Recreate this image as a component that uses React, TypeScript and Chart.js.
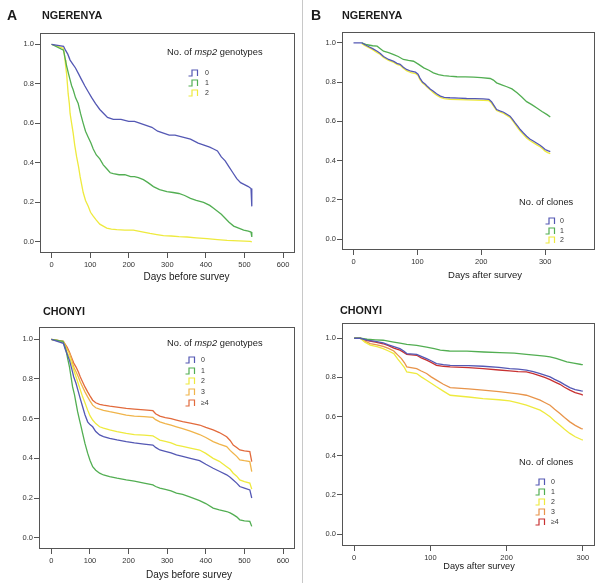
import React, { useEffect, useRef } from "react";
import { Chart, registerables } from "chart.js";
Chart.register(...registerables);

// ---------------- data ----------------
const yTickValues = [0, 0.2, 0.4, 0.6, 0.8, 1.0];
const xTicksBefore = [0, 100, 200, 300, 400, 500, 600];
const xTicksAfter = [0, 100, 200, 300];

// A: Ngerenya, No. of msp2 genotypes, days before survey
const ngBefore0Days = [0, 31, 36, 42, 48, 55, 62, 70, 78, 86, 95, 104, 114, 125, 135, 145, 160, 180, 200, 215, 230, 245, 260, 275, 290, 305, 320, 340, 360, 380, 395, 410, 420, 430, 440, 450, 460, 470, 480, 490, 500, 510, 517, 519];
const ngBefore0Surv = [1, 0.99, 0.97, 0.95, 0.92, 0.9, 0.88, 0.85, 0.82, 0.79, 0.76, 0.73, 0.7, 0.67, 0.65, 0.63, 0.62, 0.62, 0.61, 0.61, 0.6, 0.59, 0.58, 0.56, 0.55, 0.54, 0.54, 0.53, 0.52, 0.5, 0.49, 0.48, 0.47, 0.46, 0.43, 0.41, 0.38, 0.35, 0.32, 0.3, 0.29, 0.28, 0.27, 0.18];
const ngBefore1Days = [0, 31, 35, 39, 44, 48, 52, 56, 62, 69, 75, 82, 88, 95, 102, 108, 116, 125, 134, 143, 152, 160, 175, 190, 205, 215, 225, 238, 250, 264, 280, 299, 315, 330, 345, 360, 375, 394, 410, 420, 430, 440, 450, 460, 472, 485, 498, 510, 517, 519];
const ngBefore1Surv = [1, 0.97, 0.93, 0.89, 0.85, 0.82, 0.79, 0.77, 0.73, 0.7, 0.65, 0.6, 0.56, 0.53, 0.5, 0.47, 0.44, 0.42, 0.39, 0.37, 0.35, 0.345, 0.34, 0.34, 0.33, 0.33, 0.325, 0.315, 0.3, 0.28, 0.265, 0.255, 0.25, 0.245, 0.235, 0.22, 0.21, 0.2, 0.185, 0.17, 0.155, 0.14, 0.12, 0.1, 0.08, 0.07, 0.06, 0.055, 0.05, 0.025];
const ngBefore2Days = [0, 30, 33, 35, 37, 39, 41, 43, 46, 48, 52, 56, 60, 65, 70, 74, 78, 82, 88, 95, 101, 108, 116, 125, 134, 143, 155, 169, 190, 212, 225, 238, 255, 273, 290, 310, 330, 351, 375, 403, 430, 455, 485, 515, 519];
const ngBefore2Surv = [1, 0.98, 0.95, 0.92, 0.88, 0.85, 0.8, 0.75, 0.7, 0.65, 0.6, 0.55, 0.49, 0.43, 0.38, 0.33, 0.29, 0.25, 0.21, 0.18, 0.15, 0.13, 0.11, 0.09, 0.08, 0.07, 0.065, 0.062, 0.06, 0.06, 0.055, 0.05, 0.043, 0.037, 0.032, 0.03, 0.027, 0.025, 0.021, 0.017, 0.012, 0.008, 0.005, 0.003, 0.0];

// B: Ngerenya, No. of clones, days after survey
const ngAfter0Days = [0, 13, 18, 24, 30, 37, 42, 47, 55, 63, 68, 73, 78, 83, 90, 97, 101, 104, 108, 112, 115, 120, 125, 130, 136, 142, 151, 165, 177, 190, 203, 212, 216, 220, 224, 230, 235, 240, 245, 249, 253, 257, 261, 266, 271, 276, 282, 287, 292, 296, 300, 304, 308];
const ngAfter0Surv = [1, 1, 0.99, 0.98, 0.97, 0.957, 0.945, 0.93, 0.915, 0.905, 0.895, 0.89, 0.875, 0.864, 0.855, 0.85, 0.84, 0.82, 0.8, 0.79, 0.78, 0.765, 0.753, 0.74, 0.728, 0.722, 0.72, 0.718, 0.716, 0.715, 0.714, 0.712, 0.7, 0.68, 0.66, 0.652, 0.646, 0.636, 0.626, 0.61, 0.592, 0.575, 0.558, 0.54, 0.524, 0.51, 0.498, 0.488, 0.478, 0.468, 0.456, 0.45, 0.445];
const ngAfter1Days = [13, 21, 30, 37, 42, 47, 55, 63, 70, 78, 86, 94, 102, 110, 118, 125, 133, 141, 150, 162, 175, 188, 200, 214, 219, 224, 232, 240, 248, 256, 263, 271, 279, 287, 295, 303, 308];
const ngAfter1Surv = [1, 0.99, 0.985, 0.983, 0.97, 0.957, 0.95, 0.94, 0.93, 0.915, 0.91, 0.906, 0.89, 0.872, 0.86, 0.847, 0.838, 0.833, 0.83, 0.827, 0.826, 0.825, 0.822, 0.818, 0.81, 0.796, 0.786, 0.776, 0.765, 0.745, 0.725, 0.7, 0.685, 0.668, 0.65, 0.634, 0.622];
const ngAfter2Days = [13, 18, 24, 30, 37, 42, 47, 55, 63, 68, 73, 78, 83, 90, 97, 101, 104, 108, 112, 115, 120, 125, 130, 136, 142, 151, 165, 177, 190, 203, 212, 216, 220, 224, 230, 235, 240, 245, 249, 253, 257, 261, 266, 271, 276, 282, 287, 292, 296, 300, 304, 308];
const ngAfter2Surv = [0.995, 0.985, 0.975, 0.965, 0.95, 0.94, 0.925, 0.91, 0.9, 0.89, 0.885, 0.87, 0.858, 0.848, 0.843, 0.833, 0.812, 0.795, 0.785, 0.775, 0.76, 0.746, 0.733, 0.722, 0.715, 0.712, 0.71, 0.709, 0.708, 0.707, 0.705, 0.693, 0.673, 0.655, 0.646, 0.64, 0.63, 0.62, 0.603, 0.585, 0.567, 0.55, 0.532, 0.515, 0.502, 0.49, 0.48, 0.47, 0.46, 0.448, 0.44, 0.435];

// C: Chonyi, No. of msp2 genotypes, days before survey
const chBeforeDays = [0, 31, 36, 41, 47, 53, 58, 64, 70, 75, 81, 87, 94, 100, 107, 115, 125, 135, 151, 170, 194, 215, 240, 263, 270, 281, 295, 310, 324, 340, 360, 384, 400, 419, 435, 454, 463, 471, 480, 488, 500, 514, 519];
const chBefore0Surv = [1, 0.98, 0.95, 0.925, 0.894, 0.85, 0.81, 0.777, 0.735, 0.7, 0.66, 0.62, 0.584, 0.57, 0.559, 0.535, 0.518, 0.51, 0.501, 0.493, 0.484, 0.478, 0.472, 0.467, 0.455, 0.442, 0.435, 0.428, 0.417, 0.41, 0.4, 0.388, 0.37, 0.35, 0.335, 0.317, 0.305, 0.291, 0.275, 0.258, 0.25, 0.241, 0.2];
const chBefore2Surv = [1, 0.985, 0.96, 0.935, 0.91, 0.875, 0.845, 0.81, 0.775, 0.745, 0.71, 0.68, 0.643, 0.615, 0.593, 0.575, 0.559, 0.552, 0.543, 0.535, 0.526, 0.52, 0.517, 0.513, 0.505, 0.492, 0.485, 0.478, 0.467, 0.46, 0.452, 0.442, 0.425, 0.4, 0.385, 0.358, 0.345, 0.325, 0.31, 0.291, 0.283, 0.275, 0.245];
const chBefore3Surv = [1, 0.99, 0.97, 0.95, 0.93, 0.895, 0.86, 0.836, 0.81, 0.785, 0.76, 0.735, 0.71, 0.69, 0.668, 0.655, 0.648, 0.642, 0.635, 0.628, 0.618, 0.613, 0.61, 0.606, 0.595, 0.584, 0.575, 0.567, 0.559, 0.55, 0.537, 0.52, 0.505, 0.484, 0.472, 0.459, 0.44, 0.426, 0.41, 0.392, 0.388, 0.384, 0.333];
const chBefore4Surv = [1, 0.99, 0.975, 0.96, 0.935, 0.905, 0.88, 0.86, 0.835, 0.81, 0.785, 0.76, 0.735, 0.715, 0.693, 0.68, 0.672, 0.668, 0.663, 0.658, 0.652, 0.648, 0.644, 0.64, 0.625, 0.613, 0.605, 0.6, 0.593, 0.585, 0.577, 0.568, 0.556, 0.543, 0.53, 0.509, 0.49, 0.467, 0.455, 0.442, 0.438, 0.434, 0.384];
const chBefore1Days = [0, 30, 34, 38, 42, 47, 51, 55, 60, 64, 68, 73, 77, 81, 87, 94, 100, 107, 115, 125, 135, 151, 170, 194, 215, 240, 263, 270, 281, 295, 310, 324, 340, 360, 384, 400, 419, 435, 454, 463, 471, 480, 488, 500, 514, 519];
const chBefore1Surv = [1, 0.99, 0.97, 0.945, 0.905, 0.86, 0.81, 0.76, 0.72, 0.677, 0.635, 0.593, 0.56, 0.526, 0.475, 0.426, 0.39, 0.358, 0.34, 0.325, 0.316, 0.308, 0.3, 0.291, 0.285, 0.275, 0.266, 0.258, 0.25, 0.243, 0.236, 0.225, 0.218, 0.205, 0.187, 0.172, 0.149, 0.14, 0.132, 0.125, 0.116, 0.105, 0.09, 0.085, 0.082, 0.057];

// D: Chonyi, No. of clones, days after survey
const chAfter1Days = [0, 8, 17, 28, 38, 50, 60, 69, 82, 95, 105, 113, 125, 148, 170, 191, 210, 226, 240, 250, 257, 265, 272, 279, 288, 298, 300];
const chAfter1Surv = [1, 1, 0.995, 0.992, 0.99, 0.982, 0.975, 0.969, 0.964, 0.955, 0.947, 0.939, 0.935, 0.934, 0.93, 0.927, 0.924, 0.918, 0.913, 0.909, 0.905, 0.897, 0.888, 0.879, 0.873, 0.866, 0.865];
const chAfterDays = [0, 8, 17, 28, 38, 45, 52, 60, 65, 69, 82, 88, 95, 101, 108, 117, 126, 150, 169, 190, 204, 215, 226, 235, 244, 250, 257, 263, 270, 276, 283, 290, 298, 300];
const chAfter0Surv = [1, 1, 0.99, 0.984, 0.976, 0.966, 0.957, 0.947, 0.935, 0.922, 0.918, 0.908, 0.896, 0.885, 0.871, 0.865, 0.862, 0.86, 0.857, 0.851, 0.845, 0.842, 0.837, 0.83, 0.82, 0.812, 0.803, 0.79, 0.777, 0.763, 0.748, 0.738, 0.731, 0.73];
const chAfter4Surv = [1, 1, 0.988, 0.98, 0.972, 0.962, 0.95, 0.939, 0.928, 0.918, 0.913, 0.9, 0.888, 0.877, 0.862, 0.857, 0.854, 0.85, 0.845, 0.838, 0.833, 0.83, 0.828, 0.82, 0.808, 0.8, 0.789, 0.777, 0.765, 0.75, 0.735, 0.722, 0.713, 0.71];
const chAfterEarlyDays = [0, 8, 14, 21, 30, 38, 45, 52, 57, 62, 66, 69, 82, 88, 95, 101, 108, 117, 126, 150, 169, 190, 204, 215, 226, 235, 244, 250, 257, 263, 270, 276, 283, 290, 298, 300];
const chAfter3Surv = [1, 1, 0.985, 0.973, 0.966, 0.959, 0.948, 0.935, 0.915, 0.896, 0.875, 0.854, 0.845, 0.833, 0.82, 0.803, 0.786, 0.765, 0.748, 0.742, 0.735, 0.727, 0.721, 0.716, 0.709, 0.697, 0.684, 0.672, 0.658, 0.638, 0.616, 0.595, 0.573, 0.555, 0.539, 0.537];
const chAfter2Surv = [1, 1, 0.98, 0.965, 0.957, 0.947, 0.935, 0.922, 0.895, 0.871, 0.85, 0.828, 0.82, 0.803, 0.786, 0.77, 0.752, 0.73, 0.709, 0.7, 0.692, 0.686, 0.68, 0.67, 0.658, 0.646, 0.633, 0.618, 0.599, 0.578, 0.556, 0.535, 0.514, 0.497, 0.483, 0.48];

const genotypeLabels = ["0", "1", "2", "3", "\u22654"];

// ---------------- styles ----------------
const FONT = "'Liberation Sans', Arial, Helvetica, sans-serif";
const BLUE = "#5458b4";
const GREEN = "#52ae52";
const YELLOW = "#eeea3e";
const LORANGE = "#f0b44a";
const RORANGE = "#e26a3c";
const DORANGE = "#e8944a";
const RED = "#c83232";

type Series = { days: number[]; surv: number[]; color: string };
type PanelCfg = {
  left: number; top: number; width: number; height: number;
  padTop: number; padRight: number; yW: number; xH: number;
  xMin: number; xMax: number; yMin: number; yMax: number;
  xTicks: number[]; series: Series[];
};

const boxPlugin = {
  id: "box",
  afterDatasetsDraw(chart: any) {
    const { ctx, chartArea } = chart;
    const { left, top, right, bottom } = chartArea;
    ctx.save();
    ctx.strokeStyle = "#555";
    ctx.lineWidth = 1;
    ctx.strokeRect(Math.round(left) + 0.5, Math.round(top) + 0.5, Math.round(right - left) - 1, Math.round(bottom - top) - 1);
    ctx.restore();
  },
};

function Panel({ cfg }: { cfg: PanelCfg }) {
  const ref = useRef<HTMLCanvasElement | null>(null);
  useEffect(() => {
    if (!ref.current) return;
    const tickFont = { family: FONT, size: 7.5 };
    const chart = new Chart(ref.current, {
      type: "line",
      data: {
        datasets: cfg.series.map((s) => ({
          data: s.days.map((d, i) => ({ x: d, y: s.surv[i] })),
          borderColor: s.color,
          borderWidth: 1.3,
          pointRadius: 0,
          stepped: false,
          tension: 0,
          fill: false,
        })),
      },
      options: {
        animation: false,
        responsive: false,
        maintainAspectRatio: false,
        events: [],
        layout: { padding: { top: cfg.padTop, right: cfg.padRight, left: 0, bottom: 0 } },
        plugins: { legend: { display: false }, tooltip: { enabled: false }, title: { display: false } },
        scales: {
          x: {
            type: "linear",
            min: cfg.xMin,
            max: cfg.xMax,
            border: { display: false },
            grid: { drawOnChartArea: false, drawTicks: true, tickLength: 5, tickColor: "#555", tickWidth: 1 },
            ticks: { font: tickFont, color: "#333", padding: 2, maxRotation: 0, autoSkip: false, callback: (v: any) => String(v) },
            afterBuildTicks: (s: any) => { s.ticks = cfg.xTicks.map((v) => ({ value: v })); },
            afterFit: (s: any) => { s.height = cfg.xH; },
          },
          y: {
            type: "linear",
            min: cfg.yMin,
            max: cfg.yMax,
            border: { display: false },
            grid: { drawOnChartArea: false, drawTicks: true, tickLength: 5, tickColor: "#555", tickWidth: 1 },
            ticks: { font: tickFont, color: "#333", padding: 1, autoSkip: false, callback: (v: any) => Number(v).toFixed(1) },
            afterBuildTicks: (s: any) => { s.ticks = yTickValues.map((v) => ({ value: v })); },
            afterFit: (s: any) => { s.width = cfg.yW; },
          },
        },
      },
      plugins: [boxPlugin],
    } as any);
    return () => chart.destroy();
  }, [cfg]);
  return (
    <canvas
      ref={ref}
      width={cfg.width}
      height={cfg.height}
      style={{ position: "absolute", left: cfg.left, top: cfg.top, width: cfg.width, height: cfg.height }}
    />
  );
}

function StepIcon({ x, y, color }: { x: number; y: number; color: string }) {
  return (
    <svg width={12} height={8} style={{ position: "absolute", left: x, top: y - 4 }}>
      <path d="M0.5,7 H4 V1 H9.5 V7" stroke={color} strokeWidth={1.2} fill="none" />
    </svg>
  );
}

function Legend({ titleX, titleY, title, iconX, textX, rows, labels, colors }: any) {
  return (
    <>
      <div style={{ position: "absolute", left: titleX, top: titleY - 6, fontFamily: FONT, fontSize: 9.3, color: "#222", whiteSpace: "nowrap", lineHeight: "12px" }}>
        {title}
      </div>
      {labels.map((l: string, i: number) => (
        <React.Fragment key={i}>
          <StepIcon x={iconX} y={rows[i]} color={colors[i]} />
          <div style={{ position: "absolute", left: textX, top: rows[i] - 5, fontFamily: FONT, fontSize: 7, color: "#333", lineHeight: "10px" }}>{l}</div>
        </React.Fragment>
      ))}
    </>
  );
}

function Text({ x, y, size, bold, children, center }: any) {
  return (
    <div
      style={{
        position: "absolute", left: center ? x - 100 : x, top: y - size * 0.6, width: center ? 200 : undefined,
        textAlign: center ? "center" : "left", fontFamily: FONT, fontSize: size, fontWeight: bold ? "bold" : "normal",
        color: "#1a1a1a", whiteSpace: "nowrap", lineHeight: `${Math.round(size * 1.2)}px`,
      }}
    >
      {children}
    </div>
  );
}

const panelA: PanelCfg = {
  left: 0, top: 0, width: 300, height: 290, padTop: 33, padRight: 5, yW: 40, xH: 37,
  xMin: -30, xMax: 631, yMin: -0.056, yMax: 1.057, xTicks: xTicksBefore,
  series: [
    { days: ngBefore0Days, surv: ngBefore0Surv, color: BLUE },
    { days: ngBefore1Days, surv: ngBefore1Surv, color: GREEN },
    { days: ngBefore2Days, surv: ngBefore2Surv, color: YELLOW },
  ],
};
const panelB: PanelCfg = {
  left: 302, top: 0, width: 299, height: 290, padTop: 32, padRight: 6, yW: 40, xH: 40,
  xMin: -18, xMax: 378, yMin: -0.056, yMax: 1.055, xTicks: xTicksAfter,
  series: [
    { days: ngAfter0Days, surv: ngAfter0Surv, color: BLUE },
    { days: ngAfter1Days, surv: ngAfter1Surv, color: GREEN },
    { days: ngAfter2Days, surv: ngAfter2Surv, color: YELLOW },
  ],
};
const panelC: PanelCfg = {
  left: 0, top: 290, width: 300, height: 293, padTop: 37, padRight: 5, yW: 39, xH: 34,
  xMin: -32, xMax: 631, yMin: -0.057, yMax: 1.062, xTicks: xTicksBefore,
  series: [
    { days: chBeforeDays, surv: chBefore0Surv, color: BLUE },
    { days: chBefore1Days, surv: chBefore1Surv, color: GREEN },
    { days: chBeforeDays, surv: chBefore2Surv, color: YELLOW },
    { days: chBeforeDays, surv: chBefore3Surv, color: LORANGE },
    { days: chBeforeDays, surv: chBefore4Surv, color: RORANGE },
  ],
};
const panelD: PanelCfg = {
  left: 302, top: 290, width: 299, height: 293, padTop: 33, padRight: 6, yW: 40, xH: 37,
  xMin: -16, xMax: 316, yMin: -0.061, yMax: 1.078, xTicks: xTicksAfter,
  series: [
    { days: chAfterDays, surv: chAfter0Surv, color: BLUE },
    { days: chAfter1Days, surv: chAfter1Surv, color: GREEN },
    { days: chAfterEarlyDays, surv: chAfter2Surv, color: YELLOW },
    { days: chAfterEarlyDays, surv: chAfter3Surv, color: DORANGE },
    { days: chAfterDays, surv: chAfter4Surv, color: RED },
  ],
};

const msp2Title = (
  <>
    No. of <i>msp2</i> genotypes
  </>
);

export default function App() {
  return (
    <div style={{ position: "absolute", left: 0, top: 0, width: 601, height: 583, background: "#fff", overflow: "hidden" }}>
      <div style={{ position: "absolute", left: 302, top: 0, width: 1, height: 583, background: "#c8c8c8" }} />
      <Panel cfg={panelA} />
      <Panel cfg={panelB} />
      <Panel cfg={panelC} />
      <Panel cfg={panelD} />

      <Text x={7} y={15} size={14} bold>A</Text>
      <Text x={42} y={15} size={10.8} bold>NGERENYA</Text>
      <Text x={311} y={15} size={14} bold>B</Text>
      <Text x={342} y={15} size={10.8} bold>NGERENYA</Text>
      <Text x={43} y={311} size={10.8} bold>CHONYI</Text>
      <Text x={340} y={310} size={10.8} bold>CHONYI</Text>

      <Text x={186.5} y={277} size={10} center>Days before survey</Text>
      <Text x={485} y={275} size={9.5} center>Days after survey</Text>
      <Text x={189} y={575} size={10} center>Days before survey</Text>
      <Text x={479} y={567} size={9.2} center>Days after survey</Text>

      <Legend titleX={167} titleY={52} title={msp2Title} iconX={188} textX={205}
        rows={[72.5, 82.5, 92.5]} labels={genotypeLabels.slice(0, 3)} colors={[BLUE, GREEN, YELLOW]} />
      <Legend titleX={519} titleY={202} title="No. of clones" iconX={545} textX={560}
        rows={[221, 230.5, 240]} labels={genotypeLabels.slice(0, 3)} colors={[BLUE, GREEN, YELLOW]} />
      <Legend titleX={167} titleY={343} title={msp2Title} iconX={185} textX={201}
        rows={[360, 370.5, 381, 391.5, 402.5]} labels={genotypeLabels} colors={[BLUE, GREEN, YELLOW, LORANGE, RORANGE]} />
      <Legend titleX={519} titleY={462} title="No. of clones" iconX={535} textX={551}
        rows={[481.5, 491.5, 501.5, 511.5, 522]} labels={genotypeLabels} colors={[BLUE, GREEN, YELLOW, DORANGE, RED]} />
    </div>
  );
}
